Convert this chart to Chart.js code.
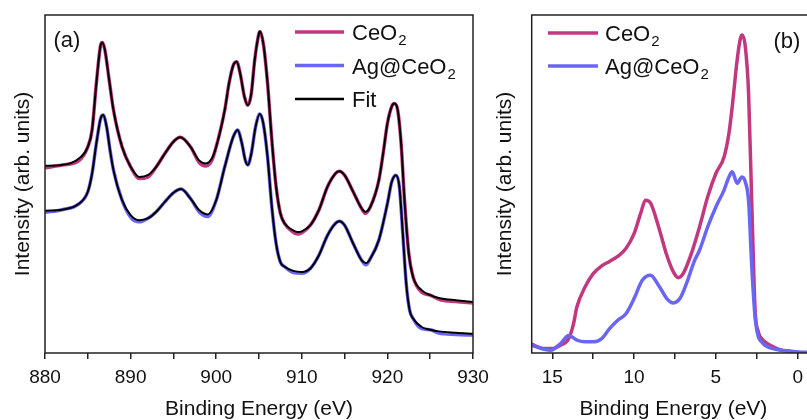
<!DOCTYPE html>
<html>
<head>
<meta charset="utf-8">
<script src="https://cdn.jsdelivr.net/npm/chart.js@4.4.1/dist/chart.umd.min.js"></script>
<style>
html,body{margin:0;padding:0;background:#fff;overflow:hidden;width:807px;height:420px;}
#wa{position:absolute;left:0;top:0;}
#wb{position:absolute;left:480px;top:0;}
</style>
</head>
<body>
<div id="wa"><canvas id="grafa" width="520" height="420"></canvas></div>
<div id="wb"><canvas id="grafb" width="340" height="420"></canvas></div>
<script>
// (a) Ce 3d, CeO2
var energiaCe = [880,882,884,885,885.5,886,886.5,886.7,887,887.5,888,889,890,891,892,893,894,895,895.8,897,898,898.8,899.5,900,901,901.5,902,902.4,902.8,903.3,903.7,904.1,904.5,905,905.1,905.5,906,906.5,907,907.5,908,909,909.5,910,911,912,913,914,914.4,915,916,917,917.4,918,919,919.5,920,920.5,920.8,921.2,921.6,922,922.5,923,924,925,926,928,930];
var ceo2Datos = [54.8,55.6,57.0,61,66,79.8,91.1,91.9,89.6,80.7,71.9,61,55.1,51.6,52.0,55.1,59,62.5,63.8,61,56.4,55.3,57.0,61,71.9,79.8,85.2,86.2,82.7,75.8,73.3,76.8,86.7,94.6,95.1,91.6,79.8,63,49.2,41.3,38.3,35.7,35.2,35.6,37.8,42.3,49.2,53.3,53.8,52.6,47.7,42.7,41.3,43.2,51.1,59,67.9,72.9,73.8,71.9,62,45.2,29.4,22.5,18.0,17.1,15.9,15.2,14.8];
var ceo2Ajuste = [55.4,55.6,57.6,61,66,79.8,91.1,91.9,89.6,80.7,71.9,61,55.1,52.1,52.6,55.1,59,62.5,63.8,61,57,56.1,57.6,61,71.9,79.8,85.2,86.2,82.7,75.8,73.3,76.8,86.7,94.6,95.1,91.6,79.8,63,49.2,41.3,38.3,36.3,35.8,36,37.8,42.3,49.2,53.3,53.8,52.6,47.7,42.7,41.8,43.2,51.1,59,67.9,72.9,73.8,71.9,62,45.2,29.4,22.5,18.6,17.1,16.3,15.6,15.1];

// (a) Ce 3d, Ag@CeO2
var energiaAg = [880,882,884,885,885.5,886,886.5,886.8,887.2,887.6,888,889,890,891,892,893,894,895,895.9,897,898,899,900,901,902,902.5,903,903.4,903.7,904.1,904.6,905.1,905.5,906,906.5,907,907.5,908,909,910,911,912,913,914,914.4,915,916,917,917.5,918,919,920,920.5,921,921.4,921.8,922.2,922.6,923,924,925,926,928,930];
var agDatos = [41.6,42.4,44.2,47.7,53.1,62,69.4,70.4,66.9,60,54.1,45.2,40.2,38.8,39.8,41.8,44.7,47.4,48.5,45.7,41.8,40.4,45.2,55.1,64,66,62,57,55.6,59,66.9,70.7,67.9,58,43.2,32.4,26.9,25.5,23.8,23.6,25,28.9,34.8,38.5,39,37.8,32.4,27.4,26.1,27.9,33.4,44.2,50.6,52.6,49.2,35.3,20.5,12.6,10.2,7.2,6.9,5.9,5.5,5.3];
var agAjuste = [42.1,42.4,44.2,47.7,53.1,62,69.4,70.4,66.9,60,54.1,45.2,40.8,39.3,39.8,41.8,44.7,47.4,48.5,45.7,42.3,41,45.2,55.1,64,66,62,57,55.6,59,66.9,70.7,67.9,58,43.2,32.4,26.9,25.5,24.3,24,25,28.9,34.8,38.5,39,37.8,32.4,27.4,26.6,27.9,33.4,44.2,50.6,52.6,49.2,35.3,20.5,12.6,10.2,7.7,6.9,6.4,6,5.7];

// (b) banda de valencia
var energiaVbCe = [16.26,15.5,15,14.5,14,13.7,13.5,13,12.5,12,11.5,11,10.5,10,9.6,9.3,9,8.5,8,7.6,7.3,7,6.5,6,5.5,5,4.5,4.2,4,3.7,3.5,3.4,3.2,3,2.8,2.6,2.4,2.2,2,1.5,1,0.5,0,-0.5,-1.06];
var ceo2Vb = [2.6,1.3,1.3,2.3,4.2,8.7,13.6,19.5,23.5,25.7,27.1,28.6,30.9,35.3,41.3,45.2,44.4,37.3,28.9,24,22.3,23.5,29.4,37.3,46.2,53.1,58,65,72.9,86.7,93.1,94.1,90.6,76.8,43.2,12.6,6.2,4.2,3.3,1.8,0.8,0.5,0.2,0,0];
var energiaVbAg = [16.26,15.5,15.1,14.5,14,13.5,13,12.5,12,11.5,11,10.5,10,9.5,9,8.5,8,7.6,7.2,6.8,6.3,6,5.5,5,4.5,4.2,4,3.7,3.4,3.2,3,2.8,2.6,2.4,2.2,2,1.5,1,0.5,0,-0.5,-1.06];
var agVb = [2.3,1.1,0.8,2.8,5.2,3.8,3.3,3.3,4.2,7.2,9.7,11.6,16.1,21.5,23,20,16.1,14.8,16.1,20.5,27.4,30.4,37.3,43.2,48.2,52.1,53.6,50.2,52.1,50.6,45,25,10.5,4.7,3.3,2.3,1.3,0.8,0.6,0.3,0.2,0.1];

var fam = "'Liberation Sans', Arial, Helvetica, sans-serif";
var rosa = "#c1387f";
var azul = "#6a66f4";
var ejeCol = "#222";

function pts(xs, ys){
    var out=[];
    for (var i in xs){
        out.push({x:xs[i], y:ys[i]});
    }
    return out;
}

function serie(xs, ys, color, ancho){
    return {
        data: pts(xs, ys),
        borderColor: color,
        borderWidth: ancho,
        pointRadius: 0,
        fill: false,
        cubicInterpolationMode: "monotone"
    };
}

// caja alrededor del area del grafico
var marco = {
    id: "marco",
    afterDraw: function(chart){
        var a = chart.chartArea, ctx = chart.ctx;
        ctx.save();
        ctx.strokeStyle = ejeCol;
        ctx.lineWidth = 1.5;
        ctx.strokeRect(a.left, a.top, a.right - a.left, a.bottom - a.top);
        ctx.restore();
    }
};

// leyenda con subindices + etiqueta del panel
var leyenda = {
    id: "leyenda",
    afterDraw: function(chart, args, o){
        var ctx = chart.ctx;
        ctx.save();
        ctx.textBaseline = "alphabetic";
        o.items.forEach(function(it, i){
            var y = o.y + i*o.dy;
            ctx.strokeStyle = it.color;
            ctx.lineWidth = it.width;
            ctx.beginPath();
            ctx.moveTo(o.x0, y);
            ctx.lineTo(o.x1, y);
            ctx.stroke();
            ctx.fillStyle = "#111";
            ctx.font = "22px " + fam;
            ctx.fillText(it.label, o.xt, y + 8);
            if (it.sub){
                var w = ctx.measureText(it.label).width;
                ctx.font = "15px " + fam;
                ctx.fillText(it.sub, o.xt + w + 1, y + 13);
            }
        });
        ctx.font = "22px " + fam;
        ctx.fillText(o.tag, o.tx, o.ty);
        ctx.restore();
    }
};

function ejeX(min, max, paso, mayor, rev){
    return {
        type: "linear", min: min, max: max, reverse: rev,
        afterBuildTicks: function(s){
            s.ticks = s.ticks.filter(function(t){
                var q = t.value / paso;
                return Math.abs(q - Math.round(q)) < 1e-6 && t.value >= min && t.value <= max;
            });
        },
        afterFit: function(s){ s.height = 67; s.paddingLeft = 0; s.paddingRight = 0; },
        ticks: {
            stepSize: paso, includeBounds: false, autoSkip: false, maxRotation: 0, padding: 7, color: "#111",
            font: { family: fam, size: 19 },
            callback: function(v){
                var q = v / mayor;
                return Math.abs(q - Math.round(q)) < 1e-6 ? String(Math.round(v)) : "";
            }
        },
        grid: { drawOnChartArea: false, drawTicks: true, tickLength: 6, color: ejeCol, lineWidth: 1.5 },
        border: { display: false },
        title: { display: true, text: "Binding Energy (eV)", color: "#111", font: { family: fam, size: 21 }, padding: { top: 0, bottom: -2 } }
    };
}

function ejeY(ancho, pad){
    return {
        min: 0, max: 100,
        afterFit: function(s){ s.width = ancho; },
        ticks: { display: false },
        grid: { display: false },
        border: { display: false },
        title: { display: true, text: "Intensity (arb. units)", color: "#111", font: { family: fam, size: 21 }, padding: { top: pad, bottom: 0 } }
    };
}

new Chart(document.getElementById("grafa"), {
    type: "line",
    data: {
        datasets: [
            serie(energiaCe, ceo2Ajuste, "#000", 2),
            serie(energiaAg, agAjuste, "#000", 2),
            serie(energiaCe, ceo2Datos, rosa, 3.5),
            serie(energiaAg, agDatos, azul, 3.5)
        ]
    },
    options: {
        responsive: false,
        animation: false,
        events: [],
        layout: { padding: { top: 15, right: 47, left: 0, bottom: 0 } },
        scales: { x: ejeX(880, 930, 5, 10, false), y: ejeY(45, 11) },
        plugins: {
            legend: { display: false },
            tooltip: { enabled: false },
            leyenda: {
                x0: 295, x1: 344, xt: 352, y: 32, dy: 33.5,
                tag: "(a)", tx: 53.5, ty: 47,
                items: [
                    { label: "CeO", sub: "2", color: rosa, width: 3.5 },
                    { label: "Ag@CeO", sub: "2", color: azul, width: 3.5 },
                    { label: "Fit", sub: "", color: "#000", width: 2.5 }
                ]
            }
        }
    },
    plugins: [marco, leyenda]
});

new Chart(document.getElementById("grafb"), {
    type: "line",
    data: {
        datasets: [
            serie(energiaVbAg, agVb, azul, 3.5),
            serie(energiaVbCe, ceo2Vb, rosa, 3.5)
        ]
    },
    options: {
        responsive: false,
        animation: false,
        events: [],
        layout: { padding: { top: 15, right: 5, left: 0, bottom: 0 } },
        scales: { x: ejeX(-1.06, 16.26, 2.5, 5, true), y: ejeY(51.7, 13) },
        plugins: {
            legend: { display: false },
            tooltip: { enabled: false },
            leyenda: {
                x0: 68, x1: 118, xt: 125, y: 33, dy: 33,
                tag: "(b)", tx: 293.5, ty: 48,
                items: [
                    { label: "CeO", sub: "2", color: rosa, width: 3.5 },
                    { label: "Ag@CeO", sub: "2", color: azul, width: 3.5 }
                ]
            }
        }
    },
    plugins: [marco, leyenda]
});
</script>
</body>
</html>
